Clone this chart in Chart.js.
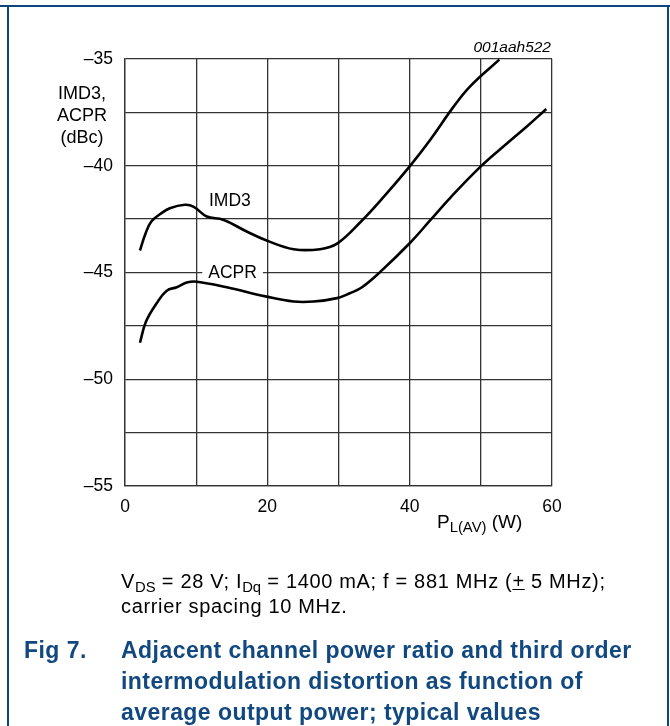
<!DOCTYPE html>
<html>
<head>
<meta charset="utf-8">
<script src="https://cdn.jsdelivr.net/npm/chart.js@4.4.1/dist/chart.umd.min.js"></script>
<style>
  html, body { margin: 0; padding: 0; background: #fff; }
  #page { position: relative; width: 670px; height: 726px; overflow: hidden; font-family: "Liberation Sans", Arial, sans-serif; color: #000; }
  #page canvas { position: absolute; left: 0; top: 0; }
  .t { position: absolute; white-space: nowrap; line-height: 20px; }
  .frame { position: absolute; background: #0b477f; }
  .cap { font-size: 20px; letter-spacing: 0.67px; line-height: 22px; }
  .blue { color: #10487f; font-weight: bold; font-size: 23px; line-height: 26px; letter-spacing: 0.45px; }
  sub { font-size: 0.74em; vertical-align: -0.3em; line-height: 0; letter-spacing: 0; }
</style>
</head>
<body>
<div id="page">
  <canvas id="chart" width="670" height="726"></canvas>
  <div class="frame" style="left:0;top:5px;width:670px;height:2px"></div>
  <div class="frame" style="left:7px;top:5px;width:2px;height:721px"></div>
  <div class="frame" style="left:667px;top:5px;width:2px;height:721px"></div>

  <div class="t" style="right:119px;top:37px;font-size:15.5px;font-style:italic">001aah522</div>
  <div class="t" style="left:50px;width:64px;text-align:center;top:83px;font-size:18px">IMD3,</div>
  <div class="t" style="left:50px;width:64px;text-align:center;top:105px;font-size:18px">ACPR</div>
  <div class="t" style="left:50px;width:64px;text-align:center;top:127px;font-size:18px">(dBc)</div>
  <div class="t" style="left:437px;top:512px;font-size:19px">P<sub style="font-size:0.78em">L(AV)</sub> (W)</div>

  <div class="t cap" style="left:121px;top:570px">V<sub>DS</sub> = 28 V; I<sub>Dq</sub> = 1400 mA; f = 881 MHz (<u style="text-decoration-thickness:1px;text-underline-offset:1px">+</u> 5 MHz);</div>
  <div class="t cap" style="left:121px;top:595px">carrier spacing 10 MHz.</div>

  <div class="t blue" style="left:24px;top:637px">Fig 7.</div>
  <div class="t blue" style="left:121px;top:637px">Adjacent channel power ratio and third order</div>
  <div class="t blue" style="left:121px;top:668px">intermodulation distortion as function of</div>
  <div class="t blue" style="left:121px;top:699px">average output power; typical values</div>
</div>
<script>
// values, P in W, levels in dBc
const imd3P = [2.1, 2.9, 3.7, 5.0, 6.3, 8.4, 9.6, 11.5, 13.8, 17.1, 19.9, 23.7, 27.4, 29.8, 33.2, 36.5, 40.0, 42.9, 46.2, 48.5, 52.6];
const imd3Level = [-43.97, -43.16, -42.61, -42.25, -41.99, -41.83, -41.91, -42.38, -42.53, -43.08, -43.5, -43.91, -43.91, -43.65, -42.6, -41.4, -40.03, -38.78, -37.22, -36.28, -35.03];

const acprP = [2.1, 2.95, 4.45, 5.86, 7.27, 8.68, 10.1, 14.3, 19.9, 23.7, 26.5, 29.8, 31.6, 33.3, 35.9, 40.0, 42.9, 45.7, 50.0, 53.7, 56.5, 59.2];
const acprLevel = [-48.29, -47.3, -46.44, -45.85, -45.69, -45.47, -45.43, -45.69, -46.13, -46.36, -46.36, -46.2, -45.97, -45.69, -44.96, -43.63, -42.55, -41.5, -40.03, -38.95, -38.15, -37.34];

const xTickLabels = [0, 20, 40, 60];
const yTickLabels = [-35, -40, -45, -50, -55];

// curve names sit on the plot like in the original
const curveNames = ['IMD3', 'ACPR'];
const curveNameAt = [[11.8, -41.6], [11.7, -45]];

function points(xs, ys) {
    return xs.map(function (x, i) { return {x: x, y: ys[i]}; });
}

let curveLabels = {
    id: 'curveLabels',
    afterDatasetsDraw: function (chart) {
        let ctx = chart.ctx;
        let xs = chart.scales.x, ys = chart.scales.y;
        ctx.save();
        ctx.font = '17.5px "Liberation Sans", Arial, sans-serif';
        ctx.textBaseline = 'middle';
        curveNames.forEach(function (name, i) {
            let px = xs.getPixelForValue(curveNameAt[i][0]);
            let py = ys.getPixelForValue(curveNameAt[i][1]);
            let w = ctx.measureText(name).width;
            ctx.fillStyle = '#fff';
            ctx.fillRect(px - 6, py - 6, w + 12, 12);
            ctx.fillStyle = '#000';
            ctx.fillText(name, px, py + 1);
        });
        ctx.restore();
    }
};

let tickFont = {family: '"Liberation Sans", Arial, sans-serif', size: 17.5};

new Chart(document.getElementById('chart').getContext('2d'), {
    type: 'scatter',
    data: {
        datasets: [{
            label: 'IMD3',
            data: points(imd3P, imd3Level),
            showLine: true,
            borderColor: '#000',
            borderWidth: 2.6,
            pointRadius: 0,
            tension: 0.4
        }, {
            label: 'ACPR',
            data: points(acprP, acprLevel),
            showLine: true,
            borderColor: '#000',
            borderWidth: 2.6,
            pointRadius: 0,
            tension: 0.4
        }]
    },
    options: {
        responsive: false,
        animation: false,
        layout: {padding: {left: 0, top: 59, right: 118, bottom: 0}},
        plugins: {legend: {display: false}, tooltip: {enabled: false}},
        scales: {
            x: {
                type: 'linear', min: 0, max: 60,
                afterFit: function (s) { s.height = 240; },
                grid: {color: '#333', lineWidth: 1.3, drawTicks: false},
                border: {color: '#333', width: 1.3},
                ticks: {
                    stepSize: 10, autoSkip: false, padding: 11, color: '#000', font: tickFont, maxRotation: 0,
                    callback: function (v) { return xTickLabels.indexOf(v) >= 0 ? String(v) : ''; }
                }
            },
            y: {
                type: 'linear', min: -55, max: -35,
                afterFit: function (s) { s.width = 125; },
                grid: {color: '#333', lineWidth: 1.3, drawTicks: false},
                border: {color: '#333', width: 1.3},
                ticks: {
                    stepSize: 2.5, autoSkip: false, padding: 12, color: '#000', font: tickFont,
                    callback: function (v) { return yTickLabels.indexOf(v) >= 0 ? '\u2013' + Math.abs(v) : ''; }
                }
            }
        }
    },
    plugins: [curveLabels]
});
</script>
</body>
</html>
